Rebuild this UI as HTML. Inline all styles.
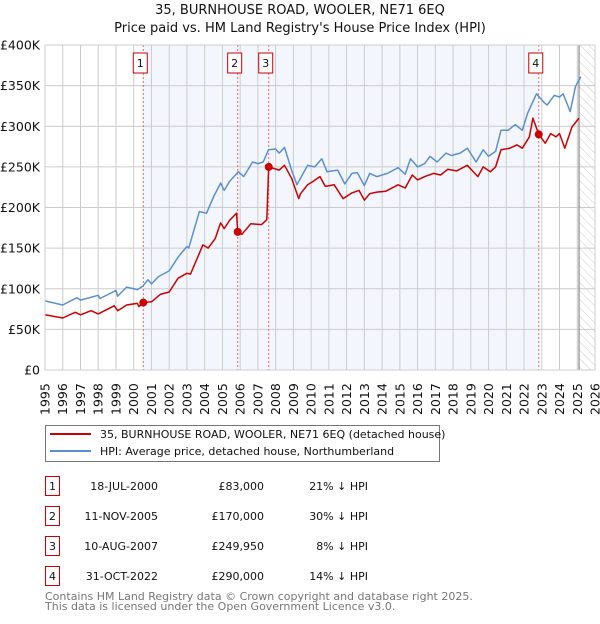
<!DOCTYPE html>
<html><head><meta charset="utf-8"><style>
body{margin:0;background:#fff;font-family:"DejaVu Sans","Liberation Sans",sans-serif;}
svg text{font-family:"DejaVu Sans","Liberation Sans",sans-serif;}
</style></head><body>
<svg id="c" width="600" height="620" xmlns="http://www.w3.org/2000/svg"></svg>
<script>
const hpiYears=[1995,1996,1996.8,1997,1998,1998.1,1999,1999.1,1999.6,2000.2,2000.5,2000.8,2001,2001.4,2002,2002.5,2003,2003.1,2003.7,2004.1,2004.5,2004.9,2005.1,2005.4,2005.9,2006.2,2006.7,2007,2007.3,2007.6,2008,2008.2,2008.5,2008.9,2009.2,2009.4,2009.8,2010.2,2010.6,2010.9,2011.5,2011.9,2012.3,2012.6,2013,2013.3,2013.7,2014.3,2014.9,2015.3,2015.6,2016,2016.4,2016.7,2017.1,2017.6,2017.9,2018.4,2018.8,2019.3,2019.7,2020,2020.4,2020.7,2021.1,2021.5,2021.9,2022.2,2022.7,2023.1,2023.3,2023.7,2024,2024.2,2024.6,2024.9,2025.2];
const hpiValues=[85,80,89,86,92,88,98,91,102,99,103,111,106,115,122,139,152,150,195,193,213,230,221,232,244,238,256,254,256,271,272,267,274,246,228,236,252,250,260,244,246,229,242,243,227,242,238,242,249,241,260,250,254,263,256,267,264,267,273,256,271,263,269,295,295,302,295,316,340,330,326,338,336,340,318,349,361];
const ppYears=[1995,1996,1996.7,1997,1997.6,1998,1998.9,1999.1,1999.6,2000.2,2000.3,2000.54,2001,2001.5,2002,2002.5,2003,2003.2,2003.9,2004.2,2004.6,2004.9,2005.1,2005.4,2005.8,2005.86,2006.1,2006.6,2007.2,2007.5,2007.61,2008.2,2008.5,2008.9,2009.3,2009.4,2009.8,2010.1,2010.5,2010.8,2011.3,2011.8,2012.3,2012.7,2013,2013.3,2013.7,2014.2,2014.9,2015.3,2015.7,2016,2016.4,2016.9,2017.3,2017.7,2018.2,2018.8,2019.4,2019.7,2020.1,2020.4,2020.7,2021.2,2021.6,2021.9,2022.3,2022.5,2022.83,2023.2,2023.5,2023.8,2024,2024.3,2024.7,2025.1];
const ppValues=[68,64,71,68,73,69,79,73,80,82,78,83,84,93,96,113,119,118,154,150,162,181,174,184,193,170,167,180,179,185,250,246,252,236,211,217,228,232,238,226,228,211,218,221,209,217,219,220,228,224,240,234,238,242,240,247,245,252,238,250,244,250,271,273,277,273,287,310,290,279,291,287,291,273,299,310];
const saleYears=[2000.54,2005.86,2007.61,2022.83];
const saleValues=[83,170,249.95,290];
const saleLabels=["1","2","3","4"];
const yTicks=[0,50,100,150,200,250,300,350,400];
const yTickLabels=["£0","£50K","£100K","£150K","£200K","£250K","£300K","£350K","£400K"];
const xTicks=[];for(let y=1995;y<=2026;y++)xTicks.push(y);

const L=45,R=595,T=45,B=370;
const X=y=>L+(y-1995)*(R-L)/31;
const Y=v=>B-v*(B-T)/400;
const svg=document.getElementById('c');
const NS="http://www.w3.org/2000/svg";
function el(tag,attrs,parent){const e=document.createElementNS(NS,tag);for(const k in attrs)e.setAttribute(k,attrs[k]);(parent||svg).appendChild(e);return e;}

// defs hatch
const defs=el('defs',{});
const pat=el('pattern',{id:'h',width:6,height:6,patternUnits:'userSpaceOnUse',patternTransform:'rotate(-45)'},defs);
el('line',{x1:0,y1:0,x2:0,y2:6,stroke:'#ccc','stroke-width':1},pat);

// title
let t=el('text',{x:300,y:14,'text-anchor':'middle','font-size':13,fill:'#111'});t.textContent="35, BURNHOUSE ROAD, WOOLER, NE71 6EQ";

t=el('text',{x:300,y:32,'text-anchor':'middle','font-size':13,fill:'#111'});t.textContent="Price paid vs. HM Land Registry's House Price Index (HPI)";


// shaded region
let r=el('rect',{x:X(saleYears[0]),y:T,width:X(saleYears[3])-X(saleYears[0]),height:B-T,fill:'#eef3fc',opacity:0.7});

// hatch
r=el('rect',{x:X(2025.1),y:T,width:R-X(2025.1),height:B-T,fill:'url(#h)'});


// grid
xTicks.forEach(y=>{const g=el('line',{x1:X(y),x2:X(y),y1:T,y2:B,stroke:'#ccc','stroke-width':1});

const tx=el('text',{transform:`translate(${X(y)+4.5},${B+45}) rotate(-90)`,'font-size':12.5,fill:'#111'});tx.textContent=y;
});
yTicks.forEach((v,i)=>{const g=el('line',{x1:L,x2:R,y1:Y(v),y2:Y(v),stroke:'#ccc','stroke-width':1});

const tx=el('text',{x:40,y:Y(v)+4.5,'text-anchor':'end','font-size':12.5,fill:'#111'});tx.textContent=yTickLabels[i];
});
let vl=el('line',{x1:X(2025.1),x2:X(2025.1),y1:T,y2:B,stroke:'#888','stroke-width':1.2});


// sale dashed lines + boxes
saleYears.forEach((y,i)=>{const d=el('line',{x1:X(y),x2:X(y),y1:T,y2:B,stroke:'#e66','stroke-width':1,'stroke-dasharray':'2,2'});

const bx=el('rect',{x:X(y)-10,y:53,width:14,height:20,fill:'#fff',stroke:'#c00','stroke-width':1});

const tx=el('text',{x:X(y)-3,y:67,'text-anchor':'middle','font-size':11,fill:'#111'});tx.textContent=saleLabels[i];
});

function path(xs,vs,color,name){const d=xs.map((y,i)=>(i?'L':'M')+X(y).toFixed(1)+','+Y(vs[i]).toFixed(1)).join('');
const p=el('path',{d:d,fill:'none',stroke:color,'stroke-width':1.5,'stroke-linejoin':'round'});
}
path(hpiYears,hpiValues,'#5b8fd1','hpi-line');
path(ppYears,ppValues,'#cc0000','price-paid-line');
saleYears.forEach((y,i)=>{const c=el('circle',{cx:X(y),cy:Y(saleValues[i]),r:4,fill:'#cc0000'});
});
let bd=el('rect',{x:L,y:T,width:R-L,height:B-T,fill:'none',stroke:'#ccc'});


// legend
const lg=el('g',{});
el('rect',{x:45.5,y:425.5,width:394,height:36,fill:'#fff',stroke:'#777'},lg);
let ll=el('line',{x1:50,x2:91,y1:434,y2:434,stroke:'#cc0000','stroke-width':2},lg);

t=el('text',{x:100,y:438,'font-size':11,fill:'#111'},lg);t.textContent="35, BURNHOUSE ROAD, WOOLER, NE71 6EQ (detached house)";

ll=el('line',{x1:50,x2:91,y1:451,y2:451,stroke:'#5b8fd1','stroke-width':2},lg);

t=el('text',{x:100,y:455,'font-size':11,fill:'#111'},lg);t.textContent="HPI: Average price, detached house, Northumberland";


// table
const dates=["18-JUL-2000","11-NOV-2005","10-AUG-2007","31-OCT-2022"];
const prices=["£83,000","£170,000","£249,950","£290,000"];
const pcts=["21% ↓ HPI","30% ↓ HPI","8% ↓ HPI","14% ↓ HPI"];
dates.forEach((d,i)=>{const y0=476+i*30;
const b=el('rect',{x:45.5,y:y0+0.5,width:14,height:19,fill:'#fff',stroke:'#c00'});

let tx=el('text',{x:52.5,y:y0+14,'text-anchor':'middle','font-size':11,fill:'#111'});tx.textContent=saleLabels[i];

tx=el('text',{x:158,y:y0+14,'text-anchor':'end','font-size':11,fill:'#111'});tx.textContent=d;

tx=el('text',{x:264,y:y0+14,'text-anchor':'end','font-size':11,fill:'#111'});tx.textContent=prices[i];

tx=el('text',{x:368,y:y0+14,'text-anchor':'end','font-size':11,fill:'#111'});tx.textContent=pcts[i];
});

t=el('text',{x:45,y:600,'font-size':11,fill:'#777'});t.textContent="Contains HM Land Registry data © Crown copyright and database right 2025.";

t=el('text',{x:45,y:610,'font-size':11,fill:'#777'});t.textContent="This data is licensed under the Open Government Licence v3.0.";

</script>
</body></html>
